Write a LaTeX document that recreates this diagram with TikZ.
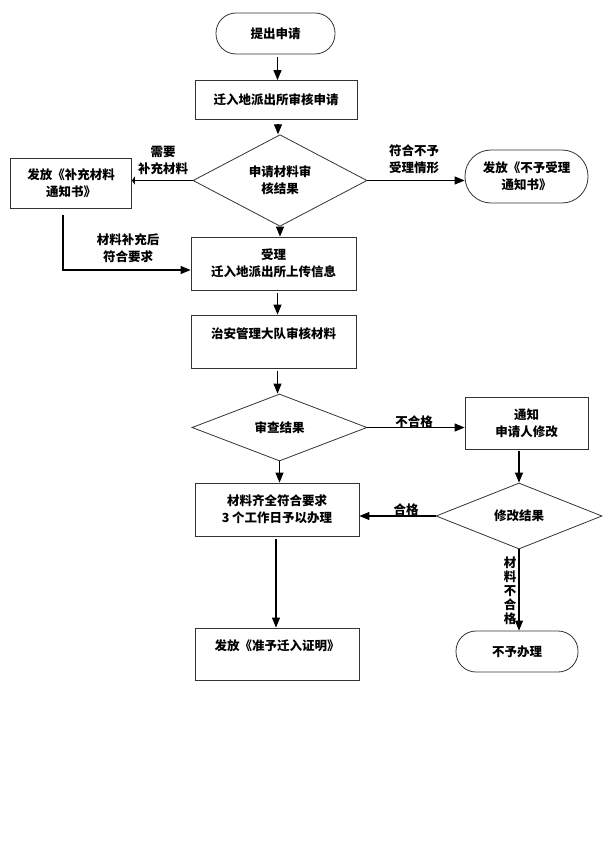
\documentclass[tikz,border=0pt]{standalone}
\usepackage{fontspec}
\setmainfont{Noto Sans CJK SC}
\usetikzlibrary{shapes.geometric,arrows.meta}
\tikzset{
  box/.style={draw=black!80,line width=0.8pt,rectangle,inner sep=0pt,align=center},
  term/.style={box,rounded corners=20pt},
  dia/.style={draw=black!80,line width=0.8pt,diamond,inner sep=0pt,align=center},
  arr/.style={line width=1.1pt,-{Triangle[length=10pt,width=8pt]}},
  flat/.style={line width=1.1pt,-{Triangle[length=3pt,width=8pt]}},
  lbl/.style={inner sep=0pt,align=center}
}
\begin{document}
\begin{tikzpicture}[x=1pt,y=-1pt,font=\bfseries\fontsize{12.5}{17}\selectfont]
\useasboundingbox (0,0) rectangle (612,853);
% nodes
\node[term,minimum width=119pt,minimum height=41pt] (start) at (275.5,33.5) {提出申请};
\node[box,minimum width=162pt,minimum height=39pt] (b1) at (276,100) {迁入地派出所审核申请};
\node[dia,minimum width=174pt,minimum height=65pt] (d1) at (280,180.5) {\fontsize{12.5}{15}\selectfont 申请材料审\\核结果};
\node[box,minimum width=121pt,minimum height=50pt] (L) at (71,183) {发放《补充材料\\通知书》};
\node[term,minimum width=123pt,minimum height=53pt,rounded corners=26pt] (R) at (526.5,176.5) {发放《不予受理\\通知书》};
\node[box,minimum width=165pt,minimum height=53pt] (b2) at (273.5,263.5) {受理\\迁入地派出所上传信息};
\node[box,minimum width=165pt,minimum height=53pt] (b3) at (273.5,341.5) {治安管理大队审核材料\\ \mbox{}};
\node[dia,minimum width=175pt,minimum height=67pt] (d2) at (279.5,427.5) {审查结果};
\node[box,minimum width=123pt,minimum height=52pt] (b4) at (526.5,423) {通知\\申请人修改};
\node[dia,minimum width=166pt,minimum height=66pt] (d3) at (519,516) {修改结果};
\node[box,minimum width=164pt,minimum height=53pt] (b5) at (277,509.5) {材料齐全符合要求\\3 个工作日予以办理};
\node[box,minimum width=164pt,minimum height=52pt] (b6) at (277,654) {发放《准予迁入证明》\\ \mbox{}};
\node[term,minimum width=122pt,minimum height=41pt] (T) at (517,651.5) {不予办理};
% connectors
\draw[arr,shorten <=3pt] ([xshift=2pt]start.south) -- ([xshift=2pt]start.south |- b1.north);
\draw[arr,shorten <=4pt] ([xshift=2pt]b1.south) -- ([xshift=2pt]b1.south |- d1.north);
\draw[flat] (d1.west) -- (d1.west -| L.east);
\draw[arr] (d1.east) -- (d1.east -| R.west);
\draw[arr] (d1.south) -- (d1.south |- b2.north);
\draw[arr,shorten <=7pt] ([xshift=-8pt]L.south) |- ([yshift=-6.5pt]b2.west);
\draw[arr,shorten <=3pt] ([xshift=4pt]b2.south) -- ([xshift=4pt]b2.south |- b3.north);
\draw[arr,shorten <=3pt] ([xshift=4pt]b3.south) -- ([xshift=4pt]b3.south |- d2.north);
\draw[arr] (d2.east) -- (d2.east -| b4.west);
\draw[arr] (d2.south) -- (d2.south |- b5.north);
\draw[arr,shorten <=2pt] ([xshift=-7.5pt]b4.south) -- ([xshift=-7.5pt]b4.south |- d3.north);
\draw[arr] (d3.west) -- (d3.west -| b5.east);
\draw[arr,shorten <=3pt] ([xshift=-1pt]b5.south) -- ([xshift=-1pt]b5.south |- b6.north);
\draw[arr] (d3.south) -- (d3.south |- T.north);
% labels
\node[lbl] (l1) at (163,160) {需要\\补充材料};
\node[lbl] (l2) at (414,159.5) {符合不予\\受理情形};
\node[lbl] (l3) at (128,248.5) {材料补充后\\符合要求};
\node[lbl] (l4) at (414,422) {不合格};
\node[lbl] (l5) at (406,510) {合格};
\node[lbl,font=\bfseries\fontsize{12.5}{14}\selectfont] (l6) at (510,591) {材\\料\\不\\合\\格};
\end{tikzpicture}
\end{document}
